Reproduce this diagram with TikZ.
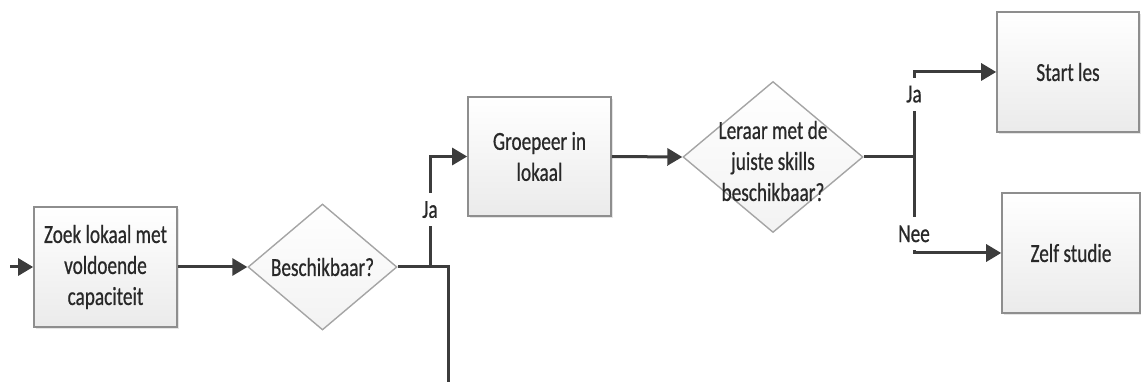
\documentclass[tikz,border=0pt]{standalone}
\usepackage{fontspec}
\setmainfont{Carlito}[FakeStretch=0.74, FakeBold=0.6]
\usetikzlibrary{shapes.geometric,arrows.meta,shadows}
\definecolor{linegray}{HTML}{3C3C3C}
\definecolor{edgegray}{HTML}{8E8E8E}
\definecolor{textgray}{HTML}{282828}
\begin{document}
\begin{tikzpicture}[x=1pt,y=-1pt,
  every node/.style={font=\fontsize{26}{31}\selectfont, text=textgray, align=center},
  stepbox/.style={rectangle, draw=edgegray, line width=1.6pt, top color=white, bottom color=black!8,
    drop shadow={shadow xshift=2pt, shadow yshift=-2pt, fill=black!20, opacity=0.5},
    minimum width=143pt, minimum height=120pt, inner sep=0pt},
  decision/.style={diamond, draw=edgegray!80, line width=1.4pt, top color=white, bottom color=black!5,
    inner sep=0pt, text width=0pt},
  conn/.style={draw=linegray, line width=3pt},
  arr/.style={conn, -{Triangle[length=15pt,width=17pt]}},
  lab/.style={fill=white, inner xsep=1pt, inner ysep=8pt}
]
\useasboundingbox (0,0) rectangle (1141,382);

% process boxes and decisions
\node[stepbox] (zoek) at (105.5,267) {Zoek lokaal met\\voldoende\\capaciteit};
\node[decision, minimum width=149pt, minimum height=126pt] (besch) at (322.5,267) {};
\node (beschtxt) at (besch.center) {Beschikbaar?};
\node[stepbox, minimum height=119pt] (groep) at (539.5,156.5) {Groepeer in\\lokaal};
\node[decision, minimum width=180pt, minimum height=151pt] (leraar) at (773,157) {};
\node (leraartxt) at (773,161) {Leraar met de\\juiste skills\\beschikbaar?};
\node[stepbox, minimum width=142pt] (start) at (1068,72) {Start les};
\node[stepbox, minimum width=138pt] (zelf) at (1071,253) {Zelf studie};

% junction points
\coordinate (in) at (10,267);
\coordinate (j1) at (430,267);
\coordinate (k1) at (448,267);
\coordinate (down) at (448,385);
\coordinate (j2) at (914,157);

% connectors
\draw[arr] (in) -- (zoek.west);
\draw[arr] (zoek.east) -- (besch.west);
\draw[conn] (besch.east) -- (k1) -- (down);
\draw[arr] (j1) |- node[lab, pos=0.26] {Ja} (groep.west);
\draw[arr] (groep.east) -- (leraar.west);
\draw[conn] (leraar.east) -- (j2);
\draw[arr] (j2) |- node[lab, pos=0.37] {Ja} (start.west);
\draw[arr] (j2) |- node[lab, pos=0.40] {Nee} (zelf.west);
\end{tikzpicture}
\end{document}
